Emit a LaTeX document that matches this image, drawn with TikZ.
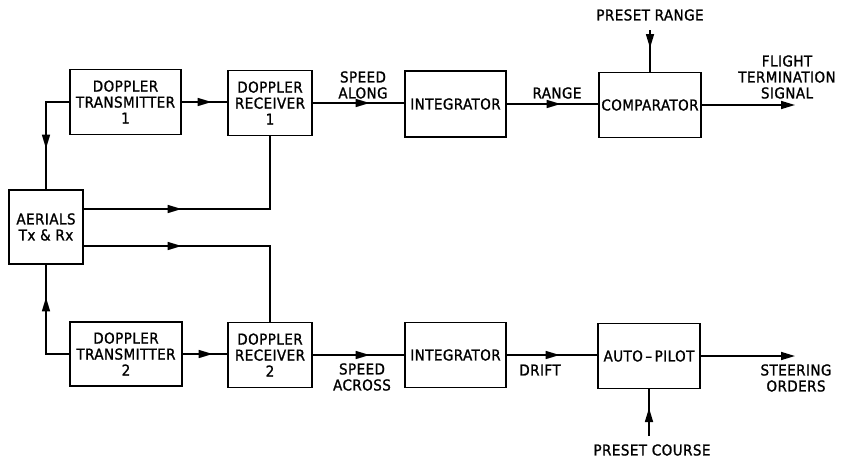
\documentclass[tikz,border=0pt]{standalone}
\usepackage{fontspec}
\newfontfamily\diagfont{DejaVu Sans Condensed}[FakeBold=1.2, LetterSpace=3]
\usetikzlibrary{arrows.meta,decorations.markings}
\tikzset{
  >={Triangle[length=14pt,width=8pt]},
  txt/.style={font=\diagfont\fontsize{15}{16}\selectfont},
  blk/.style={draw, line width=1.2pt, align=center, inner sep=0pt, txt},
  conn/.style={line width=1.6pt},
  lbl/.style={align=center, inner sep=0pt, txt},
  midarrow/.style={postaction={decorate,decoration={markings,mark=at position #1 with {\arrow{>}}}}}
}
\begin{document}
\begin{tikzpicture}[x=1pt,y=-1pt]
\useasboundingbox (0,0) rectangle (845,458);
% blocks
\node[blk, minimum width=111pt, minimum height=65pt] (dt1) at (125.5,102) {DOPPLER\\TRANSMITTER\\1};
\node[blk, minimum width=84pt, minimum height=65pt] (dr1) at (270,103) {DOPPLER\\RECEIVER\\1};
\node[blk, minimum width=74pt, minimum height=74pt] (aer) at (46,227) {AERIALS\\Tx \& Rx};
\node[blk, minimum width=112pt, minimum height=64pt] (dt2) at (126,354) {DOPPLER\\TRANSMITTER\\2};
\node[blk, minimum width=84pt, minimum height=65pt] (dr2) at (270,355) {DOPPLER\\RECEIVER\\2};
\node[blk, minimum width=101pt, minimum height=66pt] (int1) at (455.5,104) {INTEGRATOR};
\node[blk, minimum width=101pt, minimum height=65pt] (int2) at (455.5,355) {INTEGRATOR};
\node[blk, minimum width=102pt, minimum height=65pt] (cmp) at (650,105) {COMPARATOR};
\node[blk, minimum width=102pt, minimum height=65pt] (ap) at (649,356) {AUTO\,\textendash\,PILOT};
% free ends
\coordinate (fts) at (795,105);
\coordinate (so) at (795,356);
\coordinate (pr) at (650,30);
\coordinate (pc) at (649,436);
% connectors
\draw[conn, midarrow=70pt] (dt1.west) -| (aer.north);
\draw[conn, midarrow=30pt] (dt1.east) -- (dt1.east -| dr1.west);
\draw[conn, midarrow=98pt] ([yshift=18pt]aer.east) -| (dr1.south);
\draw[conn, midarrow=98pt] ([yshift=-19pt]aer.east) -| (dr2.north);
\draw[conn, midarrow=80pt] (dt2.west) -| (aer.south);
\draw[conn, midarrow=30pt] (dt2.east) -- (dt2.east -| dr2.west);
\draw[conn, midarrow=57pt] (dr1.east) -- (dr1.east -| int1.west);
\draw[conn, midarrow=54pt] (int1.east) -- (int1.east -| cmp.west);
\draw[conn, ->] (cmp.east) -- (fts);
\draw[conn, midarrow=18pt] (pr) -- (cmp.north);
\draw[conn, midarrow=57pt] (dr2.east) -- (dr2.east -| int2.west);
\draw[conn, midarrow=53pt] (int2.east) -- (int2.east -| ap.west);
\draw[conn, ->] (ap.east) -- (so);
\draw[conn, midarrow=28pt] (pc) -- (ap.south);
% labels
\node[lbl] (l1) at (363,85) {SPEED\\ALONG};
\node[lbl] (l2) at (557,93) {RANGE};
\node[lbl] (l3) at (787,77) {FLIGHT\\TERMINATION\\SIGNAL};
\node[lbl] (l4) at (650,15) {PRESET RANGE};
\node[lbl] (l5) at (362,377) {SPEED\\ACROSS};
\node[lbl] (l6) at (540,370) {DRIFT};
\node[lbl] (l7) at (796,378) {STEERING\\ORDERS};
\node[lbl] (l8) at (652,450) {PRESET COURSE};
\end{tikzpicture}
\end{document}
